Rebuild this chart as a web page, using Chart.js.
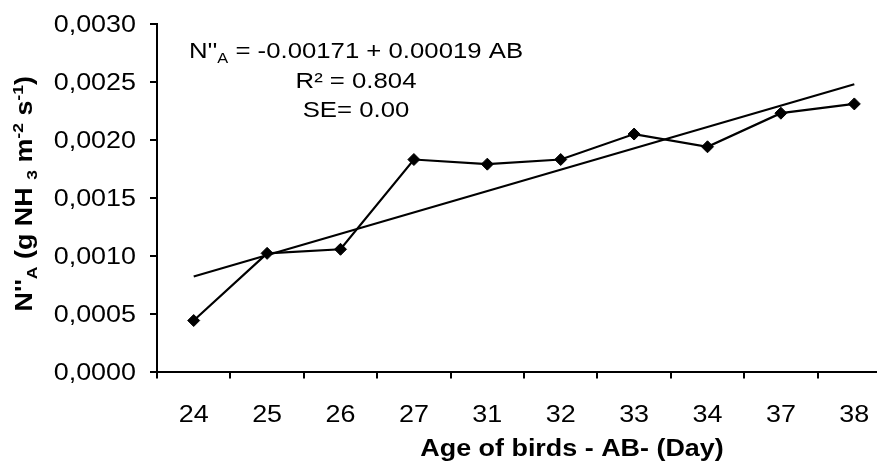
<!DOCTYPE html>
<html>
<head>
<meta charset="utf-8">
<script src="https://cdn.jsdelivr.net/npm/chart.js@4/dist/chart.umd.min.js"></script>
<style>
  html, body { margin: 0; padding: 0; background: #fff; overflow: hidden; }
  canvas { display: block; }
</style>
</head>
<body>
<canvas id="chart" width="900" height="468"></canvas>
<script>
// ammonia emission vs age of birds
const ageDays = ['24', '25', '26', '27', '31', '32', '33', '34', '37', '38'];
const fluxValues = [0.00044, 0.00102, 0.001055, 0.00183, 0.00179, 0.00183, 0.00205, 0.00194, 0.00223, 0.00231];
// linear fit, drawn between its two end values
const trendValues = [0.00082, null, null, null, null, null, null, null, null, 0.00248];
const yTicks = { min: 0, max: 0.003, step: 0.0005 };

const xTitle = 'Age of birds - AB- (Day)';
const equationLines = [
    [ { t: "N''" }, { t: 'A', sub: true }, { t: ' = -0.00171 + 0.00019 AB' } ],
    [ { t: 'R\u00b2 = 0.804' } ],
    [ { t: 'SE= 0.00' } ]
];
const yTitleRuns = [
    { t: "N''" }, { t: 'A', sub: true }, { t: ' (g NH ' }, { t: '3', sub: true },
    { t: ' m' }, { t: '-2', sup: true }, { t: ' s' }, { t: '-1', sup: true }, { t: ')' }
];

const FAMILY = '"Liberation Sans", Arial, sans-serif';
const SX = 1.17;   // text is set a little wider than the face's natural width

function runFont(run, size, bold)
{
    let s = (run.sub || run.sup) ? Math.round(size * 0.65) : size;
    return (bold ? 'bold ' : '') + s + 'px ' + FAMILY;
}

// draws a row of text runs (with sub/superscripts) centred on x,y
function drawRuns(ctx, runs, x, y, size, bold, angle, align)
{
    ctx.save();
    ctx.translate(x, y);
    if (angle) ctx.rotate(angle);
    ctx.scale(SX, 1);
    ctx.fillStyle = '#000';
    ctx.textBaseline = 'alphabetic';
    ctx.textAlign = 'left';

    let total = 0;
    runs.forEach( (r) => { ctx.font = runFont(r, size, bold); total += ctx.measureText(r.t).width; } );

    let cx = -total / 2;
    if (align === 'right') cx = -total;
    if (align === 'left') cx = 0;

    runs.forEach( (r) =>
    {
        ctx.font = runFont(r, size, bold);
        let dy = 0;
        if (r.sub) dy = size * 0.22;
        if (r.sup) dy = -size * 0.38;
        ctx.fillText(r.t, cx, dy);
        cx += ctx.measureText(r.t).width;
    } );
    ctx.restore();
}

const textLayer = {
    id: 'textLayer',
    afterDraw(chart)
    {
        const ctx = chart.ctx;
        const area = chart.chartArea;
        const xs = chart.scales.x;
        const ys = chart.scales.y;

        ys.ticks.forEach( (tk) =>
        {
            let label = tk.value.toFixed(4).replace('.', ',');
            drawRuns(ctx, [ { t: label } ], area.left - 21, ys.getPixelForValue(tk.value) + 8.3, 23, false, 0, 'right');
        } );

        ageDays.forEach( (d, i) =>
        {
            drawRuns(ctx, [ { t: d } ], xs.getPixelForValue(i), area.bottom + 50.5, 23, false, 0, 'center');
        } );

        drawRuns(ctx, [ { t: xTitle } ], area.left + 415, area.bottom + 84, 23, true, 0, 'center');

        drawRuns(ctx, yTitleRuns, area.left - 125, (area.top + area.bottom) / 2 - 4, 23, true, -Math.PI / 2, 'center');

        const eqBase = [34.3, 64.3, 92.7];
        equationLines.forEach( (line, i) =>
        {
            drawRuns(ctx, line, area.left + 199, area.top + eqBase[i], 22, false, 0, 'center');
        } );
    }
};

new Chart(document.getElementById('chart'),
    {
        type: 'line',
        data: {
            labels: ageDays,
            datasets: [
                {
                    data: fluxValues,
                    borderColor: '#000',
                    borderWidth: 2.2,
                    tension: 0,
                    pointStyle: 'rectRot',
                    pointRadius: 6,
                    pointBorderWidth: 1,
                    pointBackgroundColor: '#000',
                    pointBorderColor: '#000'
                },
                {
                    data: trendValues,
                    spanGaps: true,
                    borderColor: '#000',
                    borderWidth: 2.2,
                    pointRadius: 0
                }
            ]
        },
        options: {
            responsive: false,
            animation: false,
            layout: { padding: { top: 24, right: 9, left: 0, bottom: 0 } },
            plugins: { legend: { display: false }, tooltip: { enabled: false } },
            scales: {
                x: {
                    offset: true,
                    grid: { offset: true, drawOnChartArea: false, drawTicks: true, tickLength: 7, color: '#000', lineWidth: 2 },
                    border: { color: '#000', width: 2 },
                    ticks: { display: false },
                    afterFit: function(s) { s.height = 96.5; }
                },
                y: {
                    min: yTicks.min,
                    max: yTicks.max,
                    grid: { drawOnChartArea: false, drawTicks: true, tickLength: 7, color: '#000', lineWidth: 2 },
                    border: { color: '#000', width: 2 },
                    ticks: { display: false, stepSize: yTicks.step },
                    afterFit: function(s) { s.width = 157; }
                }
            }
        },
        plugins: [textLayer]
    });
</script>
</body>
</html>
